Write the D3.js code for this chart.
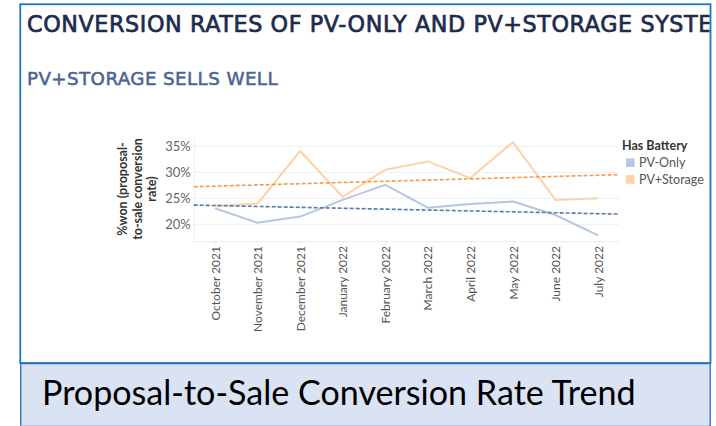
<!DOCTYPE html>
<html><head><meta charset="utf-8">
<script src="https://cdn.jsdelivr.net/npm/d3@7"></script>
<style>html,body{margin:0;padding:0;background:#fff;}</style>
</head><body><svg id="c" width="716" height="426"></svg>
<script>
const months = ["October 2021","November 2021","December 2021","January 2022","February 2022","March 2022","April 2022","May 2022","June 2022","July 2022"];
const pvOnly = [23.1, 20.3, 21.5, 24.7, 27.6, 23.2, 23.9, 24.4, 21.8, 17.9];
const pvStorage = [23.6, 24.0, 34.1, 25.3, 30.5, 32.1, 28.9, 35.8, 24.7, 25.0];
const seriesNames = ["PV-Only", "PV+Storage"];
const yTicks = [20, 25, 30, 35];
const title = "CONVERSION RATES OF PV-ONLY AND PV+STORAGE SYSTEMS";
const subtitle = "PV+STORAGE SELLS WELL";
const caption = "Proposal-to-Sale Conversion Rate Trend";
const yTitleLines = ["%won (proposal-", "to-sale conversion", "rate)"];
const legendTitle = "Has Battery";

const lineColors = ["#b6c7df", "#fcd2a8"];
const trendColors = ["#5579aa", "#f49a48"];

const svg = d3.select("#c");

function fit(sel, target){
  const w = sel.node().getComputedTextLength();
  const fs = parseFloat(sel.attr("font-size"));
  sel.attr("font-size", fs*target/w);
}

// boxes
svg.append("defs").append("clipPath").attr("id","boxclip")
  .append("rect").attr("x",21).attr("y",5).attr("width",688.5).attr("height",357);
svg.append("rect").attr("x",20.75).attr("y",363.5).attr("width",689.5).attr("height",63)
  .attr("fill","#dae3f3").attr("stroke","#4a78c8").attr("stroke-width",1.5);
svg.append("rect").attr("x",20.25).attr("y",4.25).attr("width",690.25).attr("height",358.75)
  .attr("fill","#fff").attr("stroke","#1c74c6").attr("stroke-width",1.8);

const g = svg.append("g").attr("clip-path","url(#boxclip)");

// title (sized so "SYST" ends where the reference's does; cut at the frame like the reference)
const tt = g.append("text").attr("x",27).attr("y",32).attr("font-family","DejaVu Sans")
  .attr("font-weight",400).attr("font-size",20).attr("fill","#1d2b4c")
  .attr("stroke","#1d2b4c").attr("stroke-width",0.7).attr("letter-spacing",0.6)
  .text("CONVERSION RATES OF PV-ONLY AND PV+STORAGE SYST");
fit(tt, 675);
tt.text(title);
const st = g.append("text").attr("x",27).attr("y",85).attr("font-family","DejaVu Sans")
  .attr("font-weight",400).attr("font-size",15).attr("fill","#4b6593")
  .attr("stroke","#4b6593").attr("stroke-width",0.55).attr("letter-spacing",0.4).text(subtitle);
fit(st, 253);

// caption
const ct = svg.append("text").attr("x",42).attr("y",405).attr("font-family","Lato")
  .attr("font-size",30).attr("fill","#000").text(caption);
fit(ct, 594);

// scales
const x = d3.scalePoint().domain(months).range([193.7, 619.3]).padding(0.5);
const y = d3.scaleLinear().domain([16.8, 36.8]).range([241, 137]);
const x0 = 193.7, x1 = 619.3;

// gridlines
g.append("g").selectAll("line").data(yTicks).join("line")
  .attr("x1",x0).attr("x2",x1).attr("y1",d=>y(d)).attr("y2",d=>y(d))
  .attr("stroke","#efefef").attr("stroke-width",1);

// axes
const ya = g.append("g").attr("transform",`translate(${x0},0)`)
  .call(d3.axisLeft(y).tickValues(yTicks).tickFormat(d=>d+"%").tickSize(0).tickPadding(3));
ya.select(".domain").attr("stroke","#f0f0f0");
ya.selectAll("text").attr("font-family","Lato").attr("font-size",13).attr("fill","#666");

const xa = g.append("g").attr("transform",`translate(0,241)`)
  .call(d3.axisBottom(x).tickSize(3).tickSizeOuter(0));
xa.select(".domain").attr("stroke","#eeeeee");
xa.selectAll(".tick line").attr("stroke","#e6e6e6");
xa.selectAll("text").attr("font-family","Lato").attr("font-size",12).attr("fill","#555")
  .attr("transform","rotate(-90)").attr("text-anchor","end").attr("dy","0.35em").attr("x",-5).attr("y",0);

// y title
const yt = g.append("g").attr("transform","translate(0,189) rotate(-90)");
yTitleLines.forEach((l,i)=>{
  yt.append("text").attr("x",0).attr("y",127 + i*14.5).attr("text-anchor","middle")
    .attr("font-family","Lato").attr("font-weight",700).attr("font-size",12.5).attr("fill","#333").text(l);
});

// lines
const series = [pvOnly, pvStorage];
const line = d3.line().x((d,i)=>x(months[i])).y(d=>y(d));
series.forEach((s,k)=>{
  g.append("path").datum(s).attr("d",line).attr("fill","none")
    .attr("stroke",lineColors[k]).attr("stroke-width",2).attr("stroke-linejoin","round");
});

// linear trend lines (least squares over month index)
series.forEach((s,k)=>{
  const n = s.length, mx = (n-1)/2, my = d3.mean(s);
  let sxy=0, sxx=0;
  s.forEach((v,i)=>{ sxy += (i-mx)*(v-my); sxx += (i-mx)*(i-mx); });
  const b = sxy/sxx;
  const step = x.step();
  const iAt = px => (px - x(months[0]))/step;
  g.append("line").attr("x1",x0).attr("x2",x1)
    .attr("y1", y(my + b*(iAt(x0)-mx))).attr("y2", y(my + b*(iAt(x1)-mx)))
    .attr("stroke",trendColors[k]).attr("stroke-width",1.6).attr("stroke-dasharray","4,2");
});

// legend
const lg = g.append("g");
lg.append("text").attr("x",622).attr("y",150).attr("font-family","Lato").attr("font-weight",700)
  .attr("font-size",12.5).attr("fill","#333").text(legendTitle);
seriesNames.forEach((n,i)=>{
  lg.append("rect").attr("x",626).attr("y",158.5+i*16.7).attr("width",8.5).attr("height",8.5).attr("fill",lineColors[i]);
  lg.append("text").attr("x",639).attr("y",166.8+i*16.7).attr("font-family","Lato")
    .attr("font-size",12.5).attr("fill","#555").text(n);
});
</script></body></html>
